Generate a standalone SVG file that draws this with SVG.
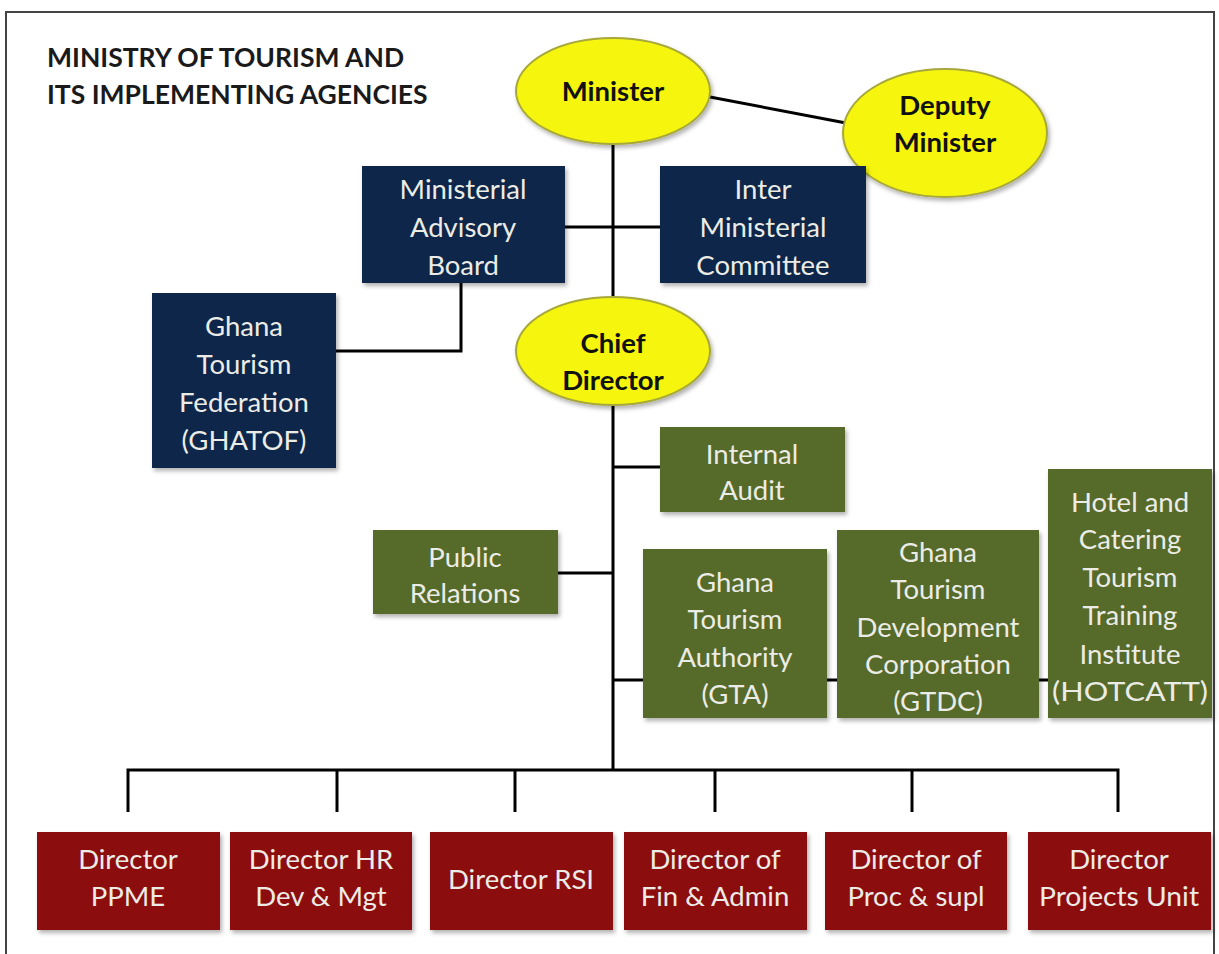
<svg xmlns="http://www.w3.org/2000/svg" width="1219" height="954" viewBox="0 0 1219 954">
<defs>
<filter id="sh" x="-10%" y="-10%" width="125%" height="125%">
<feDropShadow dx="2" dy="3" stdDeviation="2" flood-color="#000" flood-opacity="0.3"/>
</filter>
<style>
.t{font-family:Lato,"Open Sans","Liberation Sans",sans-serif;font-size:27.5px;fill:#ecece6;text-anchor:middle}
.e{font-family:Lato,"Open Sans","Liberation Sans",sans-serif;font-size:27.5px;font-weight:bold;fill:#111;text-anchor:middle}
.title{font-family:Lato,"Open Sans","Liberation Sans",sans-serif;font-size:26.5px;font-weight:bold;fill:#1a1a1a}
.navy{fill:#0f2748;filter:url(#sh)}
.green{fill:#566b2a;filter:url(#sh)}
.red{fill:#8c0b10;filter:url(#sh)}
.ell{fill:#f6f50f;stroke:#a7a83a;stroke-width:2;filter:url(#sh)}
.c{stroke:#000;stroke-width:3;fill:none}
</style>
</defs>
<rect x="0" y="0" width="1219" height="954" fill="#fff"/>
<rect x="6" y="12" width="1208" height="950" fill="none" stroke="#444" stroke-width="2"/>
<g id="title">
<text class="title" x="47" y="67">MINISTRY OF TOURISM AND</text>
<text class="title" x="47" y="104">ITS IMPLEMENTING AGENCIES</text>
</g>
<g id="connectors">
<line class="c" x1="613" y1="140" x2="613" y2="771"/>
<line class="c" x1="710" y1="97" x2="846" y2="123"/>
<line class="c" x1="565" y1="227" x2="660" y2="227"/>
<polyline class="c" points="461,283 461,351 336,351"/>
<line class="c" x1="613" y1="467" x2="660" y2="467"/>
<line class="c" x1="558" y1="573" x2="613" y2="573"/>
<line class="c" x1="613" y1="680" x2="1048" y2="680"/>
<polyline class="c" points="128,812 128,770 1118,770 1118,812"/>
<line class="c" x1="337" y1="770" x2="337" y2="812"/>
<line class="c" x1="515" y1="770" x2="515" y2="812"/>
<line class="c" x1="715" y1="770" x2="715" y2="812"/>
<line class="c" x1="912" y1="770" x2="912" y2="812"/>
</g>
<g id="minister">
<ellipse class="ell" cx="613" cy="91" rx="97" ry="53"/>
<text class="e" x="613" y="101">Minister</text>
</g>
<g id="deputy-minister">
<ellipse class="ell" cx="945" cy="133" rx="102" ry="64"/>
<text class="e" x="945" y="115">Deputy</text>
<text class="e" x="945" y="152">Minister</text>
</g>
<g id="ministerial-advisory-board">
<rect class="navy" x="362" y="166" width="203" height="117"/>
<text class="t" x="463" y="199">Ministerial</text>
<text class="t" x="463" y="237">Advisory</text>
<text class="t" x="463" y="275">Board</text>
</g>
<g id="inter-ministerial-committee">
<rect class="navy" x="660" y="166" width="206" height="117"/>
<text class="t" x="763" y="199">Inter</text>
<text class="t" x="763" y="237">Ministerial</text>
<text class="t" x="763" y="275">Committee</text>
</g>
<g id="ghatof">
<rect class="navy" x="152" y="293" width="184" height="175"/>
<text class="t" x="244" y="336">Ghana</text>
<text class="t" x="244" y="374">Tourism</text>
<text class="t" x="244" y="412">Federation</text>
<text class="t" x="244" y="450">(GHATOF)</text>
</g>
<g id="chief-director">
<ellipse class="ell" cx="613" cy="351" rx="97" ry="54"/>
<text class="e" x="613" y="353">Chief</text>
<text class="e" x="613" y="390">Director</text>
</g>
<g id="internal-audit">
<rect class="green" x="660" y="427" width="185" height="85"/>
<text class="t" x="752" y="464">Internal</text>
<text class="t" x="752" y="500">Audit</text>
</g>
<g id="public-relations">
<rect class="green" x="373" y="530" width="185" height="84"/>
<text class="t" x="465" y="567">Public</text>
<text class="t" x="465" y="603">Relations</text>
</g>
<g id="gta">
<rect class="green" x="643" y="549" width="184" height="169"/>
<text class="t" x="735" y="592">Ghana</text>
<text class="t" x="735" y="629">Tourism</text>
<text class="t" x="735" y="667">Authority</text>
<text class="t" x="735" y="704">(GTA)</text>
</g>
<g id="gtdc">
<rect class="green" x="837" y="530" width="202" height="188"/>
<text class="t" x="938" y="562">Ghana</text>
<text class="t" x="938" y="599">Tourism</text>
<text class="t" x="938" y="637">Development</text>
<text class="t" x="938" y="674">Corporation</text>
<text class="t" x="938" y="711">(GTDC)</text>
</g>
<g id="hotcatt">
<rect class="green" x="1048" y="469" width="164" height="249"/>
<text class="t" x="1130" y="512">Hotel and</text>
<text class="t" x="1130" y="549">Catering</text>
<text class="t" x="1130" y="587">Tourism</text>
<text class="t" x="1130" y="625">Training</text>
<text class="t" x="1130" y="664">Institute</text>
<text class="t" x="1130" y="701" textLength="156" lengthAdjust="spacingAndGlyphs">(HOTCATT)</text>
</g>
<g id="director-ppme">
<rect class="red" x="37" y="832" width="183" height="98"/>
<text class="t" x="128" y="869">Director</text>
<text class="t" x="128" y="906">PPME</text>
</g>
<g id="director-hr">
<rect class="red" x="230" y="832" width="182" height="98"/>
<text class="t" x="321" y="869">Director HR</text>
<text class="t" x="321" y="906">Dev &amp; Mgt</text>
</g>
<g id="director-rsi">
<rect class="red" x="430" y="832" width="183" height="98"/>
<text class="t" x="521" y="889">Director RSI</text>
</g>
<g id="director-fin">
<rect class="red" x="624" y="832" width="183" height="98"/>
<text class="t" x="715" y="869">Director of</text>
<text class="t" x="715" y="906">Fin &amp; Admin</text>
</g>
<g id="director-proc">
<rect class="red" x="825" y="832" width="182" height="98"/>
<text class="t" x="916" y="869">Director of</text>
<text class="t" x="916" y="906">Proc &amp; supl</text>
</g>
<g id="director-projects">
<rect class="red" x="1028" y="832" width="183" height="98"/>
<text class="t" x="1119" y="869">Director</text>
<text class="t" x="1119" y="906" textLength="160" lengthAdjust="spacingAndGlyphs">Projects Unit</text>
</g>
</svg>
